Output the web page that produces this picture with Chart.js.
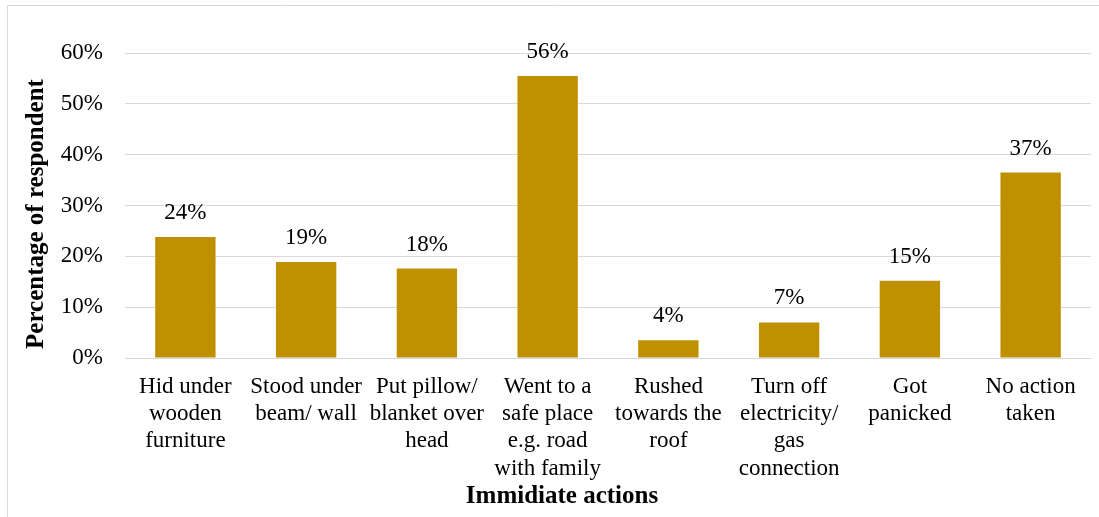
<!DOCTYPE html>
<html>
<head>
<meta charset="utf-8">
<script src="https://cdn.jsdelivr.net/npm/chart.js@4/dist/chart.umd.min.js"></script>
<style>
  html, body { margin: 0; padding: 0; background: #fff; }
  #wrap { position: relative; width: 1099px; height: 517px; }
</style>
</head>
<body>
<div id="wrap"><canvas id="chart" width="1099" height="517"></canvas></div>
<script>
const categories = [
  ['Hid under', 'wooden', 'furniture'],
  ['Stood under', 'beam/ wall'],
  ['Put pillow/', 'blanket over', 'head'],
  ['Went to a', 'safe place', 'e.g. road', 'with family'],
  ['Rushed', 'towards the', 'roof'],
  ['Turn off', 'electricity/', 'gas', 'connection'],
  ['Got', 'panicked'],
  ['No action', 'taken']
]
const percentages = [23.8, 18.9, 17.6, 55.5, 3.5, 7.0, 15.2, 36.5]
const yTicks = [0, 10, 20, 30, 40, 50, 60]
const xTitle = 'Immidiate actions'
const yTitle = 'Percentage of respondent'

const serif = '"Liberation Serif", "Times New Roman", serif'

// labels above each bar
const barLabels = {
  id: 'barLabels',
  afterDatasetsDraw (chart) {
    const ctx = chart.ctx
    const meta = chart.getDatasetMeta(0)
    ctx.save()
    ctx.font = '23px ' + serif
    ctx.fillStyle = '#000'
    ctx.textAlign = 'center'
    ctx.textBaseline = 'middle'
    meta.data.forEach((bar, i) => {
      ctx.fillText(Math.round(percentages[i]) + '%', bar.x, bar.y - 24)
    })
    ctx.restore()
  }
}

// outer frame and axis titles
const frame = {
  id: 'frame',
  afterDraw (chart) {
    const ctx = chart.ctx
    ctx.save()
    ctx.strokeStyle = '#d9d9d9'
    ctx.lineWidth = 1
    ctx.beginPath()
    ctx.moveTo(7.5, 517)
    ctx.lineTo(7.5, 5.5)
    ctx.lineTo(1099, 5.5)
    ctx.stroke()

    ctx.fillStyle = '#000'
    ctx.font = 'bold 25px ' + serif
    ctx.textAlign = 'center'
    ctx.textBaseline = 'middle'
    ctx.fillText(xTitle, 562, 497)
    ctx.translate(37, 214)
    ctx.rotate(-Math.PI / 2)
    ctx.fillText(yTitle, 0, 0)
    ctx.restore()
  }
}

const ctx = document.getElementById('chart').getContext('2d')
// eslint-disable-next-line
new Chart(ctx, {
  type: 'bar',
  data: {
    labels: categories,
    datasets: [{
      data: percentages,
      backgroundColor: '#bf9000',
      borderWidth: 0,
      categoryPercentage: 1,
      barPercentage: 0.5
    }]
  },
  options: {
    responsive: false,
    animation: false,
    layout: { padding: { left: 60, right: 8, top: 53, bottom: 0 } },
    plugins: {
      legend: { display: false },
      tooltip: { enabled: false }
    },
    scales: {
      x: {
        grid: { display: false, drawTicks: false },
        border: { color: '#d9d9d9', width: 1 },
        ticks: {
          color: '#000',
          padding: 15,
          maxRotation: 0,
          autoSkip: false,
          font: { family: serif, size: 23, lineHeight: 1.19 }
        },
        afterFit (scale) { scale.height = 159 }
      },
      y: {
        min: 0,
        max: 60,
        afterBuildTicks (scale) { scale.ticks = yTicks.map(v => ({ value: v })) },
        grid: { color: '#d9d9d9', drawTicks: false },
        border: { display: false },
        ticks: {
          color: '#000',
          padding: 22,
          font: { family: serif, size: 23 },
          callback: v => v + '%'
        },
        afterFit (scale) { scale.width = 65 }
      }
    }
  },
  plugins: [barLabels, frame]
})
</script>
</body>
</html>
